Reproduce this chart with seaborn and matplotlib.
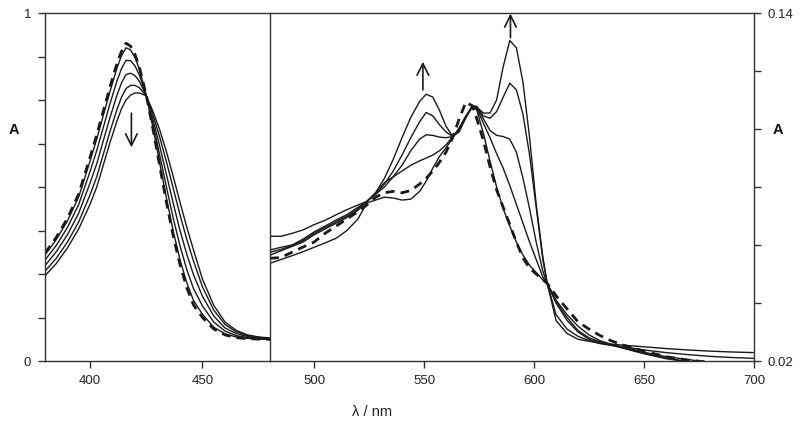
import numpy as np
import pandas as pd
import matplotlib
matplotlib.use("Agg")
import matplotlib.pyplot as plt
import seaborn as sns

# ---------------- data: left panel (Soret band) ----------------
wl_left = [380, 385, 390, 395, 400, 403, 406, 409, 412, 414, 416, 418, 420, 422,
           425, 428, 431, 434, 437, 440, 443, 446, 450, 455, 460, 465, 470, 475, 480]
left_dash = [0.310, 0.355, 0.410, 0.480, 0.585, 0.650, 0.720, 0.790, 0.855, 0.890, 0.913, 0.905, 0.881, 0.843,
             0.764, 0.666, 0.560, 0.455, 0.359, 0.277, 0.211, 0.161, 0.125, 0.092, 0.075, 0.067, 0.064, 0.063, 0.062]
left_s1 = [0.305, 0.349, 0.403, 0.472, 0.574, 0.638, 0.708, 0.777, 0.842, 0.877, 0.900, 0.894, 0.872, 0.837,
           0.764, 0.670, 0.568, 0.467, 0.373, 0.291, 0.225, 0.174, 0.134, 0.097, 0.078, 0.069, 0.065, 0.063, 0.062]
left_s2 = [0.290, 0.332, 0.384, 0.450, 0.544, 0.605, 0.673, 0.742, 0.805, 0.840, 0.864, 0.863, 0.848, 0.821,
           0.763, 0.681, 0.591, 0.499, 0.410, 0.331, 0.263, 0.208, 0.158, 0.112, 0.086, 0.073, 0.067, 0.065, 0.063]
left_s3 = [0.274, 0.314, 0.363, 0.425, 0.511, 0.567, 0.635, 0.702, 0.764, 0.799, 0.823, 0.827, 0.820, 0.803,
           0.763, 0.694, 0.617, 0.535, 0.453, 0.375, 0.307, 0.248, 0.186, 0.129, 0.095, 0.079, 0.070, 0.066, 0.064]
left_s4 = [0.258, 0.295, 0.342, 0.400, 0.477, 0.530, 0.596, 0.662, 0.723, 0.758, 0.783, 0.792, 0.792, 0.785,
           0.762, 0.707, 0.643, 0.572, 0.496, 0.420, 0.350, 0.287, 0.213, 0.146, 0.105, 0.084, 0.073, 0.068, 0.065]
left_s5 = [0.245, 0.280, 0.325, 0.380, 0.450, 0.500, 0.565, 0.630, 0.690, 0.725, 0.750, 0.764, 0.770, 0.770,
           0.762, 0.717, 0.664, 0.601, 0.530, 0.456, 0.385, 0.319, 0.235, 0.160, 0.112, 0.088, 0.075, 0.069, 0.066]

# ---------------- data: right panel (Q bands) ----------------
wl_right = [480, 485, 490, 495, 500, 505, 510, 515, 520, 524, 528, 532, 536, 540, 544, 548, 551, 554, 557, 560,
            563, 566, 569, 572, 574, 577, 580, 583, 586, 589, 592, 595, 598, 601, 604, 606, 610, 615, 620, 625,
            630, 635, 640, 645, 650, 660, 670, 680, 690, 700]
right_dash = [0.0554, 0.0557, 0.0575, 0.0593, 0.0610, 0.0640, 0.0665, 0.0690, 0.0715, 0.0738, 0.0765, 0.0780, 0.0785, 0.0780,
              0.0788, 0.0810, 0.0830, 0.0855, 0.0885, 0.0920, 0.0970, 0.1035, 0.1092, 0.1080, 0.1035, 0.0960, 0.0870, 0.0790,
              0.0730, 0.0670, 0.0610, 0.0555, 0.0520, 0.0500, 0.0480, 0.0468, 0.0425, 0.0380, 0.0335, 0.0310, 0.0288, 0.0270,
              0.0256, 0.0245, 0.0234, 0.0215, 0.0203, 0.0196, 0.0185, 0.0175]
right_s1 = [0.0537, 0.0550, 0.0563, 0.0577, 0.0592, 0.0607, 0.0623, 0.0650, 0.0690, 0.0745, 0.0755, 0.0765, 0.0762, 0.0755,
            0.0758, 0.0785, 0.0820, 0.0865, 0.0905, 0.0935, 0.0968, 0.1005, 0.1045, 0.1078, 0.1065, 0.0985, 0.0890, 0.0800,
            0.0725, 0.0665, 0.0610, 0.0565, 0.0530, 0.0505, 0.0480, 0.0468, 0.0405, 0.0350, 0.0305, 0.0280, 0.0266, 0.0255,
            0.0245, 0.0235, 0.0225, 0.0208, 0.0197, 0.0188, 0.0180, 0.0172]
right_s2 = [0.0565, 0.0580, 0.0595, 0.0610, 0.0635, 0.0655, 0.0675, 0.0695, 0.0720, 0.0750, 0.0780, 0.0815, 0.0835, 0.0855,
            0.0875, 0.0890, 0.0900, 0.0910, 0.0925, 0.0945, 0.0974, 0.1000, 0.1040, 0.1080, 0.1070, 0.1020, 0.0970, 0.0915,
            0.0865, 0.0805, 0.0740, 0.0675, 0.0610, 0.0550, 0.0490, 0.0468, 0.0410, 0.0360, 0.0320, 0.0290, 0.0270, 0.0258,
            0.0248, 0.0238, 0.0228, 0.0210, 0.0198, 0.0190, 0.0180, 0.0170]
right_s3 = [0.0575, 0.0585, 0.0598, 0.0615, 0.0640, 0.0660, 0.0680, 0.0700, 0.0725, 0.0750, 0.0775, 0.0800, 0.0835, 0.0875,
            0.0925, 0.0965, 0.0980, 0.0978, 0.0972, 0.0970, 0.0974, 0.0995, 0.1040, 0.1080, 0.1075, 0.1035, 0.0995, 0.0978,
            0.0974, 0.0965, 0.0920, 0.0830, 0.0725, 0.0610, 0.0510, 0.0468, 0.0400, 0.0340, 0.0300, 0.0275, 0.0262, 0.0255,
            0.0248, 0.0240, 0.0230, 0.0215, 0.0205, 0.0195, 0.0185, 0.0180]
right_s4 = [0.0583, 0.0592, 0.0600, 0.0620, 0.0645, 0.0665, 0.0686, 0.0705, 0.0730, 0.0750, 0.0775, 0.0810, 0.0855, 0.0910,
            0.0970, 0.1025, 0.1057, 0.1045, 0.1015, 0.0990, 0.0974, 0.0990, 0.1040, 0.1080, 0.1078, 0.1045, 0.1037, 0.1060,
            0.1110, 0.1158, 0.1135, 0.1050, 0.0910, 0.0730, 0.0550, 0.0468, 0.0360, 0.0310, 0.0285, 0.0270, 0.0260, 0.0254,
            0.0249, 0.0244, 0.0238, 0.0229, 0.0222, 0.0216, 0.0212, 0.0209]
right_s5 = [0.0630, 0.0630, 0.0640, 0.0652, 0.0670, 0.0685, 0.0704, 0.0722, 0.0738, 0.0750, 0.0780, 0.0830, 0.0895, 0.0970,
            0.1040, 0.1095, 0.1120, 0.1110, 0.1065, 0.1010, 0.0975, 0.0995, 0.1040, 0.1075, 0.1075, 0.1055, 0.1055, 0.1100,
            0.1215, 0.1305, 0.1280, 0.1160, 0.0970, 0.0740, 0.0560, 0.0468, 0.0340, 0.0295, 0.0275, 0.0268, 0.0262, 0.0258,
            0.0255, 0.0252, 0.0249, 0.0243, 0.0238, 0.0234, 0.0231, 0.0229]

left_xticks = [400, 450]
right_xticks = [500, 550, 600, 650, 700]

# ---------------- style ----------------
sns.set_theme(style="ticks")
plt.rcParams["font.family"] = ["Liberation Sans", "DejaVu Sans"]
ink = "#1a1a1a"
spine_c = "#333333"

fig = plt.figure(figsize=(8.0, 4.26), dpi=100)
bottom = 1 - 361 / 426
height = 348 / 426
ax1 = fig.add_axes([45 / 800, bottom, (270 - 45) / 800, height])
ax2 = fig.add_axes([270 / 800, bottom, (754 - 270) / 800, height])

def draw(ax, wl, series_list, dashed):
    for ys in series_list:
        df = pd.DataFrame({"wl": wl, "A": ys})
        sns.lineplot(data=df, x="wl", y="A", ax=ax, color=ink, linewidth=1.0, sort=False)
    df = pd.DataFrame({"wl": wl, "A": dashed})
    sns.lineplot(data=df, x="wl", y="A", ax=ax, color=ink, linewidth=2.0,
                 linestyle=(0, (3.2, 2.2)), sort=False)

draw(ax1, wl_left, [left_s1, left_s2, left_s3, left_s4, left_s5], left_dash)
draw(ax2, wl_right, [right_s1, right_s2, right_s3, right_s4, right_s5], right_dash)

# ---- left axes ----
ax1.set_xlim(380, 480)
ax1.set_ylim(0, 1)
ax1.set_xticks(left_xticks)
ax1.set_xticklabels([str(v) for v in left_xticks])
yt = np.linspace(0, 1, 9)
ax1.set_yticks(yt)
ax1.set_yticklabels(["0"] + [""] * 7 + ["1"])
ax1.spines["right"].set_visible(False)
ax1.set_xlabel("")
ax1.set_ylabel("")

# ---- right axes ----
ax2.set_xlim(480, 700)
ax2.set_ylim(0.02, 0.14)
ax2.set_xticks(right_xticks)
ax2.set_xticklabels([str(v) for v in right_xticks])
yt2 = np.linspace(0.02, 0.14, 7)
ax2.yaxis.tick_right()
ax2.set_yticks(yt2)
ax2.set_yticklabels(["0.02"] + [""] * 5 + ["0.14"])
ax2.set_xlabel("")
ax2.set_ylabel("")

for ax in (ax1, ax2):
    for s in ax.spines.values():
        s.set_color(spine_c)
        s.set_linewidth(1.0)
    ax.tick_params(axis="both", direction="out", length=5, width=1.0, color=spine_c,
                   labelsize=9.5, labelcolor="#222222", pad=5)
ax2.spines["left"].set_visible(True)

# arrows
arrow_kw = dict(arrowstyle="->,head_length=0.7,head_width=0.35", color=ink, lw=1.2, shrinkA=0, shrinkB=0)
ax1.annotate("", xy=(418.4, 0.614), xytext=(418.4, 0.712), arrowprops=arrow_kw)
ax2.annotate("", xy=(549.5, 0.1232), xytext=(549.5, 0.1135), arrowprops=arrow_kw)
ax2.annotate("", xy=(589.3, 0.1398), xytext=(589.3, 0.1315), arrowprops=arrow_kw, annotation_clip=False)

# axis labels
fig.text(13.5 / 800, 1 - 130 / 426, "A", fontsize=10.5, fontweight="bold", ha="center", va="center", color="#111111")
fig.text(778 / 800, 1 - 130 / 426, "A", fontsize=10.5, fontweight="bold", ha="center", va="center", color="#111111")
fig.text(372 / 800, 1 - 412 / 426, "λ / nm", fontsize=10.5, ha="center", va="center", color="#222222")

fig.savefig("out.png", dpi=100, facecolor="white")
